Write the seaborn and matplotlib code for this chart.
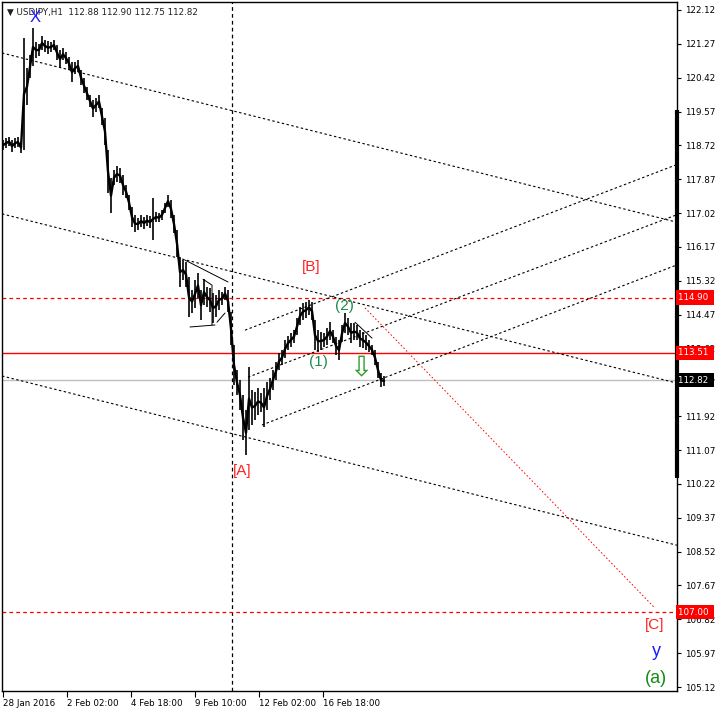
import numpy as np
import pandas as pd
import matplotlib
matplotlib.use('Agg')
import matplotlib.pyplot as plt
import matplotlib.transforms as mtransforms
import seaborn as sns

# USDJPY H1, bar index counted in hours of trading from 28 Jan 2016
# prices read every 3rd bar (high / low)
bar_step = 3
highs = [118.85, 118.90, 118.93, 118.85, 118.90, 118.93, 118.80, 121.42, 120.66, 120.99,
         121.67, 121.32, 121.27, 121.47, 121.37, 121.34, 121.32, 121.37, 121.24, 121.11,
         121.16, 121.06, 120.94, 120.81, 120.81, 120.86, 120.61, 120.41, 120.19, 119.98,
         119.86, 119.91, 119.98, 119.66, 119.41, 118.60, 117.90, 118.10, 118.20, 118.15,
         117.98, 117.72, 117.47, 117.17, 116.97, 116.90, 116.97, 116.92, 116.97, 116.95,
         117.40, 117.05, 117.02, 117.10, 117.27, 117.47, 117.35, 116.97, 116.59, 115.92,
         115.84, 115.79, 115.41, 115.09, 115.34, 115.51, 115.09, 115.36, 115.16, 115.14,
         115.01, 114.96, 115.09, 115.04, 115.16, 115.09, 114.53, 113.71, 113.08, 112.83,
         112.45, 112.07, 113.15, 112.58, 112.53, 112.63, 112.50, 112.63, 112.78, 112.88,
         113.08, 113.28, 113.51, 113.58, 113.83, 113.93, 114.01, 114.08, 114.38, 114.66,
         114.76, 114.79, 114.84, 114.79, 114.33, 114.08, 114.03, 114.01, 114.13, 114.28,
         114.08, 113.91, 113.83, 114.21, 114.51, 114.38, 114.26, 114.26, 114.21, 114.08,
         114.03, 113.96, 113.83, 113.71, 113.58, 113.28, 113.00, 112.93]
lows = [118.60, 118.65, 118.70, 118.55, 118.65, 118.68, 118.53, 118.60, 119.73, 120.41,
        120.71, 120.91, 120.96, 121.11, 121.06, 121.01, 121.06, 121.11, 120.86, 120.66,
        120.86, 120.76, 120.61, 120.31, 120.51, 120.56, 120.24, 120.03, 119.86, 119.68,
        119.43, 119.56, 119.66, 119.23, 118.73, 117.52, 117.02, 117.72, 117.80, 117.77,
        117.47, 117.40, 117.10, 116.67, 116.54, 116.59, 116.67, 116.62, 116.69, 116.64,
        116.34, 116.79, 116.79, 116.85, 117.02, 117.17, 116.90, 116.52, 115.92, 115.16,
        115.34, 115.16, 114.41, 114.51, 114.64, 114.89, 114.33, 114.71, 114.66, 114.53,
        114.26, 114.41, 114.59, 114.71, 114.84, 114.53, 113.71, 112.70, 112.45, 112.07,
        111.32, 110.94, 111.57, 111.70, 111.82, 111.95, 112.02, 111.65, 112.07, 112.33,
        112.58, 112.83, 113.08, 113.20, 113.38, 113.58, 113.66, 113.76, 113.96, 114.21,
        114.33, 114.38, 114.46, 114.33, 113.58, 113.53, 113.58, 113.66, 113.71, 113.83,
        113.76, 113.46, 113.33, 113.78, 114.01, 113.96, 113.76, 113.83, 113.83, 113.66,
        113.63, 113.58, 113.53, 113.46, 113.20, 112.88, 112.65, 112.68]

date_ticks = [0, 64, 128, 192, 256, 320]
date_labels = ['28 Jan 2016', '2 Feb 02:00', '4 Feb 18:00', '9 Feb 10:00',
               '12 Feb 02:00', '16 Feb 18:00']
price_ticks = [122.12, 121.27, 120.42, 119.57, 118.72, 117.87, 117.02, 116.17, 115.32,
               114.47, 113.62, 112.77, 111.92, 111.07, 110.22, 109.37, 108.52, 107.67,
               106.82, 105.97, 105.12]

# horizontal levels
level_prices = [114.90, 113.51, 107.00]
bid_price = 112.82
session_line = 229

# trend channels: (bar, price) start and end
down_channel = [[(-1, 121.04), (674, 116.79)],
                [(-1, 117.00), (674, 112.75)],
                [(-1, 112.93), (674, 108.68)]]
up_channel = [[(242, 114.08), (673, 118.23)],
              [(245, 112.90), (673, 116.97)],
              [(259, 111.70), (673, 115.71)]]
target_line = [(362, 114.64), (652, 107.10)]
patterns = [[(182, 115.84), (225, 115.29)],
            [(187, 114.16), (212, 114.21)],
            [(200, 115.36), (209, 115.21), (209, 114.21)],
            [(214, 114.28), (222, 114.51)],
            [(352, 114.28), (369, 113.88)]]

# wave labels
wave_text = ['X', '[B]', '(2)', '(1)', '[A]', '[C]', 'y', '(a)']
wave_pos = [(32, 121.94), (308, 115.66), (341, 114.69), (315, 113.28), (239, 110.54),
            (652, 106.67), (653, 106.00), (653, 105.34)]
wave_color = ['#1c1cff', '#ff2020', '#1e8c4a', '#1e8c4a', '#ff2020', '#ff2020',
              '#1c1cff', '#138a13']
arrow_pos = (358, 113.13)

sns.set_style('white')
plt.rcParams['font.family'] = ['DejaVu Sans']

fig = plt.figure(figsize=(7.17, 7.13), dpi=100)
ax = fig.add_axes([2 / 717, 22 / 713, 675 / 717, 689 / 713])

x_idx = np.arange(len(highs)) * bar_step
bars = pd.DataFrame({'bar': x_idx, 'high': highs, 'low': lows})
bars['mid'] = (bars['high'] + bars['low']) / 2

# price bars
ax.vlines(bars['bar'], bars['low'], bars['high'], color='black', lw=1.2, zorder=5)
sns.lineplot(data=bars, x='bar', y='mid', color='black', lw=1.7, ax=ax, zorder=5)

dots = (0, (2.2, 2.2))
for (x0, y0), (x1, y1) in down_channel + up_channel:
    ax.plot([x0, x1], [y0, y1], color='black', lw=0.8, ls=dots, zorder=3)
ax.plot([p[0] for p in target_line], [p[1] for p in target_line],
        color='red', lw=0.7, ls=(0, (1.6, 2.2)), zorder=3)
for pts in patterns:
    ax.plot([p[0] for p in pts], [p[1] for p in pts], color='black', lw=0.7, zorder=4)

ax.axvline(session_line, color='black', lw=0.9, ls=(0, (3, 2.5)), zorder=2)
ax.axhline(level_prices[0], color='red', lw=0.9, ls=(0, (3, 2.5)), zorder=2)
ax.axhline(level_prices[1], color='red', lw=1.0, zorder=2)
ax.axhline(level_prices[2], color='red', lw=0.9, ls=(0, (3, 2.5)), zorder=2)
ax.axhline(bid_price, color='#c0c0c0', lw=1.0, zorder=1)

for txt, (px, py), col in zip(wave_text, wave_pos, wave_color):
    fs = 11 if txt not in ('y', '(a)') else 13
    if txt == 'X':
        fs = 12
    ax.text(px, py, txt, color=col, fontsize=fs, family='Liberation Sans',
            ha='center', va='center', zorder=8)
ax.text(arrow_pos[0], arrow_pos[1], '\u21e9', color='#2a9a2a', fontsize=20,
        ha='center', va='center', zorder=8)

ax.set_xlim(-1, 674)
ax.set_ylim(105.02, 122.32)
ax.set_xticks(date_ticks)
ax.set_xticklabels(date_labels, ha='left', fontsize=6.3)
ax.set_yticks(price_ticks)
ax.set_yticklabels([f'{p:.2f}' for p in price_ticks], fontsize=6.3)
ax.yaxis.tick_right()
ax.tick_params(axis='y', right=True, left=False, length=3, width=0.8, pad=2.5, colors='black')
ax.tick_params(axis='x', bottom=True, length=4, width=0.8, pad=2, colors='black')
ax.set_xlabel('')
ax.set_ylabel('')
for s in ax.spines.values():
    s.set_visible(True)
    s.set_color('black')
    s.set_linewidth(1.0)

# price tags on the scale
trans = mtransforms.blended_transform_factory(ax.transAxes, ax.transData)
for p, fc in [(level_prices[0], 'red'), (level_prices[1], 'red'),
              (level_prices[2], 'red'), (bid_price, 'black')]:
    ax.text(1.002, p, f'{p:.2f} ', transform=trans, fontsize=6.3, color='white',
            ha='left', va='center', clip_on=False, zorder=10,
            bbox=dict(boxstyle='square,pad=0.3', fc=fc, ec='none'))
ax.plot([1.0, 1.0], [110.37, 119.61], transform=trans, color='black', lw=3,
        solid_capstyle='butt', clip_on=False, zorder=9)

ax.text(0.008, 0.985, '\u25bc USDJPY,H1  112.88 112.90 112.75 112.82',
        transform=ax.transAxes, fontsize=6.3, color='#202020', ha='left', va='center', zorder=7)

fig.savefig('out.png', dpi=100)
